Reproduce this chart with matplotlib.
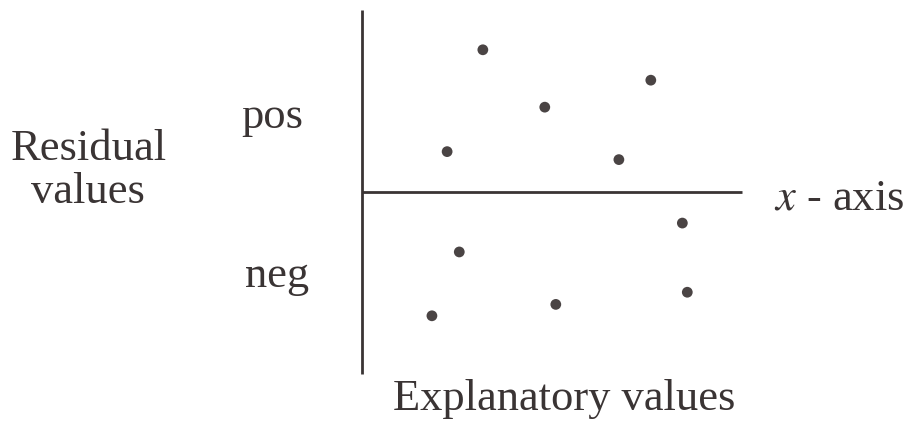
import matplotlib.pyplot as plt

# residual plot sketch: explanatory value vs residual
explanatory = [3.18, 7.60, 4.81, 2.24, 6.76, 8.43, 2.56, 8.56, 5.10, 1.84]
residual = [3.75, 2.95, 2.24, 1.07, 0.86, -0.81, -1.57, -2.63, -2.95, -3.25]

ink = "#3a3434"
serif = ["Liberation Serif", "DejaVu Serif"]
fs = 32

fig = plt.figure(figsize=(9.08, 4.26), dpi=100)
ax = fig.add_axes([0, 0, 1, 1])
ax.set_xlim(-9.526, 14.368)
ax.set_ylim(-6.15, 5.06)
ax.axis("off")

# the two axes of the sketch
ax.plot([0, 0], [4.80, -4.78], color=ink, lw=2.0, solid_capstyle="butt")
ax.plot([0, 10], [0, 0], color=ink, lw=2.0, solid_capstyle="butt")

ax.scatter(explanatory, residual, s=60, color="#4a4444", edgecolors="none", zorder=3)

ax.text(-7.20, 0.85, "Residual", family=serif, fontsize=fs, color=ink, ha="center", va="baseline")
ax.text(-7.20, -0.27, "values", family=serif, fontsize=fs, color=ink, ha="center", va="baseline")
ax.text(-2.37, 1.69, "pos", family=serif, fontsize=fs, color=ink, ha="center", va="baseline")
ax.text(-2.24, -2.49, "neg", family=serif, fontsize=fs, color=ink, ha="center", va="baseline")
ax.text(14.27, -0.44, "$x$ - axis", family=serif, fontsize=fs, color=ink, ha="right", va="baseline",
        math_fontfamily="stix")
ax.text(5.33, -5.73, "Explanatory values", family=serif, fontsize=fs, color=ink,
        ha="center", va="baseline")

fig.savefig("out.png", dpi=100, facecolor="white")
